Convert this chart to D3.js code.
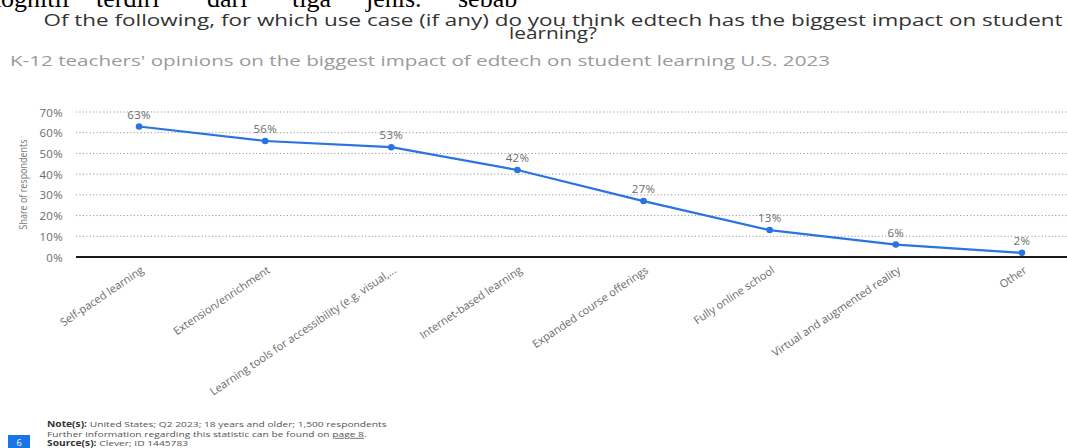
<!DOCTYPE html>
<html>
<head>
<meta charset="utf-8">
<script src="https://cdn.jsdelivr.net/npm/d3@7"></script>
<style>
  html, body { margin: 0; padding: 0; background: #fff; }
  svg { display: block; }
  text { font-family: "Open Sans", sans-serif; }
</style>
</head>
<body>
<svg id="chart" width="1067" height="448"></svg>
<script>
const categories = [
  "Self-paced learning",
  "Extension/enrichment",
  "Learning tools for accessibility (e.g. visual,...",
  "Internet-based learning",
  "Expanded course offerings",
  "Fully online school",
  "Virtual and augmented reality",
  "Other"
];
const shares = [63, 56, 53, 42, 27, 13, 6, 2];
const yTicks = [0, 10, 20, 30, 40, 50, 60, 70];

const titleLines = [
  "Of the following, for which use case (if any) do you think edtech has the biggest impact on student",
  "learning?"
];
const subtitle = "K-12 teachers' opinions on the biggest impact of edtech on student learning U.S. 2023";
const headerWords = ["kognitif", "terdiri", "dari", "tiga", "jenis.", "sebab"];
const headerWordX = [-12, 96, 207, 292, 366, 458];

const svg = d3.select("#chart");
const W = 1067, H = 448;
const margin = { left: 76, right: -18, top: 112, bottom: 191 };

// cut-off document text at very top
const hdr = svg.append("text")
  .attr("y", 7)
  .style("font-family", "'Liberation Serif', 'DejaVu Serif', serif")
  .style("font-size", "26px")
  .attr("fill", "#000");
hdr.selectAll("tspan").data(headerWords).join("tspan")
  .attr("x", (d, i) => headerWordX[i])
  .text(d => d);

// title
svg.append("text").attr("x", 553).attr("y", 26)
  .attr("text-anchor", "middle").attr("fill", "#333")
  .style("font-size", "16.5px")
  .attr("textLength", 1019).attr("lengthAdjust", "spacingAndGlyphs")
  .text(titleLines[0]);
svg.append("text").attr("x", 553).attr("y", 38.5)
  .attr("text-anchor", "middle").attr("fill", "#333")
  .style("font-size", "16.5px")
  .attr("textLength", 88).attr("lengthAdjust", "spacingAndGlyphs")
  .text(titleLines[1]);

// subtitle
svg.append("text").attr("x", 10).attr("y", 66)
  .attr("fill", "#9a9a9a")
  .style("font-size", "14px")
  .attr("textLength", 820).attr("lengthAdjust", "spacingAndGlyphs")
  .text(subtitle);

const x = d3.scalePoint()
  .domain(categories)
  .range([margin.left, W - margin.right])
  .padding(0.5);
const y = d3.scaleLinear()
  .domain([0, 70])
  .range([H - margin.bottom, margin.top]);

// gridlines
svg.append("g").selectAll("line")
  .data(yTicks.filter(d => d > 0)).join("line")
  .attr("x1", margin.left).attr("x2", W)
  .attr("y1", d => y(d)).attr("y2", d => y(d))
  .attr("stroke", "#9a9a9a").attr("stroke-width", 1)
  .attr("stroke-dasharray", "1.2,2.2");

// y axis labels
const yAxis = svg.append("g")
  .attr("transform", `translate(${margin.left - 13},0)`)
  .call(d3.axisLeft(y).tickValues(yTicks).tickFormat(d => d + "%").tickSize(0).tickPadding(0));
yAxis.select(".domain").remove();
yAxis.selectAll("text")
  .style("font-family", "'Open Sans', sans-serif")
  .style("font-size", "11.5px").style("letter-spacing", "0.3px")
  .attr("fill", "#6b6b6b").attr("dy", "0.35em");

// baseline axis
svg.append("line")
  .attr("x1", margin.left).attr("x2", W)
  .attr("y1", y(0)).attr("y2", y(0))
  .attr("stroke", "#1a1a1a").attr("stroke-width", 2);

// y axis title
svg.append("text")
  .attr("transform", `translate(27,${(y(0) + y(70)) / 2}) rotate(-90)`)
  .attr("text-anchor", "middle").attr("fill", "#777")
  .style("font-size", "10.5px")
  .attr("textLength", 90).attr("lengthAdjust", "spacingAndGlyphs")
  .text("Share of respondents");

// x axis labels
const xAxis = svg.append("g")
  .attr("transform", `translate(0,${y(0)})`)
  .call(d3.axisBottom(x).tickSize(0).tickPadding(0));
xAxis.select(".domain").remove();
xAxis.selectAll("text")
  .style("font-family", "'Open Sans', sans-serif")
  .style("font-size", "11px").attr("fill", "#6b6b6b")
  .attr("text-anchor", "end")
  .attr("dy", null).attr("y", 0)
  .attr("transform", "translate(5,15) rotate(-34)");

// line
const lineColor = "#2a73e0";
svg.append("path")
  .datum(shares)
  .attr("fill", "none").attr("stroke", lineColor).attr("stroke-width", 2.2)
  .attr("d", d3.line().x((d, i) => x(categories[i])).y(d => y(d)));

svg.append("g").selectAll("circle")
  .data(shares).join("circle")
  .attr("cx", (d, i) => x(categories[i])).attr("cy", d => y(d))
  .attr("r", 3.3).attr("fill", lineColor);

svg.append("g").selectAll("text")
  .data(shares).join("text")
  .attr("x", (d, i) => x(categories[i])).attr("y", d => y(d) - 8)
  .attr("text-anchor", "middle").attr("fill", "#6b6b6b")
  .style("font-size", "11.5px").style("letter-spacing", "0.3px")
  .text(d => d + "%");

// footer
const foot = svg.append("g")
  .attr("transform", "translate(47,0) scale(1.28,1)")
  .style("font-size", "8px").attr("fill", "#555");
const f1 = foot.append("text").attr("x", 0).attr("y", 427.5);
f1.append("tspan").style("font-weight", "bold").attr("fill", "#333").text("Note(s):");
f1.append("tspan").text(" United States; Q2 2023; 18 years and older; 1,500 respondents");
const f2 = foot.append("text").attr("x", 0).attr("y", 437);
f2.append("tspan").text("Further information regarding this statistic can be found on ");
f2.append("tspan").attr("text-decoration", "underline").text("page 8");
f2.append("tspan").text(".");
const f3 = foot.append("text").attr("x", 0).attr("y", 446);
f3.append("tspan").style("font-weight", "bold").attr("fill", "#333").text("Source(s):");
f3.append("tspan").text(" Clever; ID 1445783");

svg.append("rect").attr("x", 8).attr("y", 435).attr("width", 22).attr("height", 16)
  .attr("fill", "#1b74e4");
svg.append("text").attr("x", 19).attr("y", 446).attr("text-anchor", "middle")
  .attr("fill", "#fff").style("font-size", "9px").text("6");
</script>
</body>
</html>
